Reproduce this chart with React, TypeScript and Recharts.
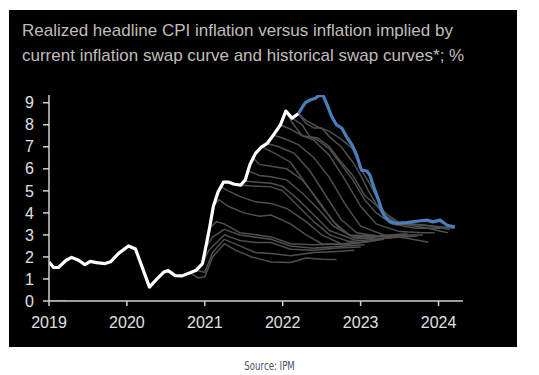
import React from 'react';
import { LineChart, Line, XAxis, YAxis } from 'recharts';

const yearTicks = [2019, 2020, 2021, 2022, 2023, 2024];
const valueTicks = [0, 1, 2, 3, 4, 5, 6, 7, 8, 9];

const realizedYears = [
  2019.0, 2019.06, 2019.12, 2019.22, 2019.29, 2019.38, 2019.46, 2019.53, 2019.61, 2019.72, 2019.79, 2019.89,
  2020.02, 2020.11, 2020.29, 2020.39, 2020.47, 2020.53, 2020.62, 2020.71, 2020.81, 2020.89, 2020.97,
  2021.01, 2021.06, 2021.11, 2021.17, 2021.24, 2021.3, 2021.38, 2021.46, 2021.52, 2021.58, 2021.65, 2021.73,
  2021.8, 2021.88, 2021.97, 2022.04, 2022.12, 2022.2,
];
const realizedValues = [
  1.77, 1.52, 1.52, 1.85, 1.98, 1.85, 1.65, 1.8, 1.74, 1.7, 1.78, 2.15,
  2.5, 2.36, 0.63, 1.02, 1.3, 1.38, 1.15, 1.14, 1.28, 1.4, 1.7,
  2.4, 3.3, 4.3, 4.95, 5.4, 5.4, 5.3, 5.26, 5.5, 6.2, 6.7, 7.0,
  7.15, 7.53, 7.99, 8.62, 8.3, 8.5,
];

const swapYears = [
  2022.2, 2022.29, 2022.35, 2022.42, 2022.46, 2022.52, 2022.57, 2022.63, 2022.69, 2022.76, 2022.82, 2022.89,
  2022.95, 2023.01, 2023.08, 2023.12, 2023.16, 2023.23, 2023.27, 2023.31, 2023.38, 2023.46, 2023.59, 2023.72,
  2023.85, 2023.93, 2024.02, 2024.11, 2024.21,
];
const swapValues = [
  8.5, 9.0, 9.12, 9.2, 9.32, 9.32, 8.9, 8.36, 8.0, 7.84, 7.45, 7.08,
  6.62, 5.94, 5.9, 5.71, 5.26, 4.58, 4.12, 3.82, 3.59, 3.52, 3.56, 3.62,
  3.67, 3.59, 3.67, 3.44, 3.36,
];

const baseSegment = [[2019.0, 0.02], [2019.22, 0.02]];

const curve01 = [[2020.81, 1.28], [2020.92, 1.05], [2021.0, 1.1], [2021.1, 2.0], [2021.25, 2.6], [2021.4, 2.3], [2021.6, 2.0], [2021.85, 1.77], [2022.1, 1.75], [2022.3, 1.95], [2022.5, 1.9], [2022.69, 1.88]];
const curve02 = [[2020.89, 1.4], [2021.0, 1.3], [2021.1, 2.2], [2021.25, 2.8], [2021.45, 2.5], [2021.65, 2.2], [2021.85, 2.16], [2022.1, 2.05], [2022.4, 2.2], [2022.7, 2.25], [2022.92, 2.3]];
const curve03 = [[2020.97, 1.7], [2021.05, 2.3], [2021.25, 3.0], [2021.45, 2.75], [2021.65, 2.65], [2021.85, 2.65], [2022.1, 2.35], [2022.4, 2.3], [2022.7, 2.4], [2023.0, 2.45]];
const curve04 = [[2021.01, 2.4], [2021.1, 2.9], [2021.25, 3.25], [2021.45, 3.0], [2021.85, 2.8], [2022.1, 2.5], [2022.4, 2.4], [2022.8, 2.5], [2023.05, 2.55]];
const curve05 = [[2021.06, 3.3], [2021.15, 3.6], [2021.25, 3.5], [2021.45, 3.1], [2021.85, 2.91], [2022.1, 2.6], [2022.4, 2.55], [2022.8, 2.6], [2023.1, 2.7]];
const curve06 = [[2021.11, 4.3], [2021.18, 4.6], [2021.3, 4.3], [2021.5, 4.0], [2021.7, 3.85], [2021.85, 3.9], [2022.1, 3.5], [2022.3, 3.0], [2022.5, 2.6], [2022.8, 2.55], [2023.2, 2.75]];
const curve07 = [[2021.2, 5.2], [2021.3, 5.0], [2021.45, 4.75], [2021.65, 4.5], [2021.85, 4.43], [2022.05, 4.2], [2022.3, 3.6], [2022.5, 3.0], [2022.75, 2.6], [2023.0, 2.65], [2023.3, 2.8]];
const curve08 = [[2021.45, 5.27], [2021.6, 5.22], [2021.85, 5.18], [2022.0, 5.0], [2022.2, 4.3], [2022.4, 3.6], [2022.6, 3.0], [2022.85, 2.7], [2023.2, 2.8], [2023.45, 2.9]];
const curve09 = [[2021.51, 5.45], [2021.65, 5.4], [2021.85, 5.34], [2022.0, 5.2], [2022.2, 4.6], [2022.4, 3.9], [2022.6, 3.2], [2022.9, 2.8], [2023.2, 2.9], [2023.5, 2.95]];
const curve10 = [[2021.56, 5.9], [2021.7, 5.7], [2021.85, 5.64], [2022.05, 5.5], [2022.25, 4.9], [2022.45, 4.2], [2022.65, 3.4], [2022.9, 2.9], [2023.2, 2.95], [2023.55, 3.0]];
const curve11 = [[2021.62, 6.5], [2021.7, 6.2], [2021.85, 6.12], [2022.05, 6.0], [2022.25, 5.5], [2022.45, 4.6], [2022.65, 3.6], [2022.85, 3.0], [2023.2, 2.95], [2023.6, 3.05]];
const curve12 = [[2021.73, 7.0], [2021.9, 6.7], [2022.1, 6.3], [2022.3, 5.3], [2022.5, 4.3], [2022.7, 3.4], [2022.9, 2.9], [2023.2, 2.8], [2023.5, 2.9], [2023.73, 2.95]];
const curve13 = [[2021.8, 7.15], [2021.95, 7.0], [2022.15, 6.7], [2022.35, 5.9], [2022.55, 4.8], [2022.75, 3.7], [2022.95, 3.1], [2023.3, 2.9], [2023.6, 3.0], [2023.8, 3.0]];
const curve14 = [[2021.88, 7.53], [2022.0, 7.4], [2022.2, 7.1], [2022.4, 6.5], [2022.6, 5.6], [2022.8, 4.4], [2023.0, 3.4], [2023.3, 3.0], [2023.6, 2.85], [2023.87, 2.67]];
const curve15 = [[2021.97, 7.99], [2022.1, 7.8], [2022.25, 7.5], [2022.4, 7.3], [2022.6, 6.6], [2022.8, 5.5], [2023.0, 4.3], [2023.2, 3.5], [2023.5, 3.15], [2023.8, 3.1], [2023.95, 3.1]];
const curve16 = [[2022.04, 8.62], [2022.12, 8.1], [2022.25, 7.5], [2022.35, 7.45], [2022.45, 7.3], [2022.6, 6.9], [2022.75, 6.2], [2022.9, 5.5], [2023.05, 4.6], [2023.2, 4.0], [2023.4, 3.5], [2023.7, 3.3], [2024.02, 3.3]];
const curve17 = [[2022.12, 8.3], [2022.25, 8.0], [2022.35, 7.45], [2022.45, 7.4], [2022.6, 7.0], [2022.75, 6.3], [2022.9, 5.7], [2023.05, 4.8], [2023.2, 4.35], [2023.3, 3.9], [2023.5, 3.5], [2023.8, 3.35], [2024.12, 3.1]];
const curve18 = [[2022.2, 8.5], [2022.3, 8.06], [2022.4, 7.85], [2022.5, 7.85], [2022.6, 7.45], [2022.75, 7.0], [2022.9, 6.3], [2023.0, 5.7], [2023.1, 5.0], [2023.2, 4.4], [2023.35, 3.9], [2023.5, 3.55], [2023.8, 3.45], [2024.15, 3.25]];
const curve19 = [[2022.2, 8.5], [2022.3, 8.2], [2022.45, 7.9], [2022.6, 7.7], [2022.75, 7.35], [2022.9, 6.9], [2023.0, 6.0], [2023.12, 5.3], [2023.25, 4.4], [2023.35, 3.7], [2023.5, 3.5], [2023.8, 3.45], [2024.2, 3.3]];

const historicalCurves = [
  baseSegment, curve01, curve02, curve03, curve04, curve05, curve06, curve07, curve08, curve09, curve10,
  curve11, curve12, curve13, curve14, curve15, curve16, curve17, curve18, curve19,
];

const toPoints = (xs: number[], ys: number[]) => xs.map((x, i) => ({ x, y: ys[i] }));
const pairPoints = (pairs: number[][]) => pairs.map(([x, y]) => ({ x, y }));

const realizedData = toPoints(realizedYears, realizedValues);
const swapData = toPoints(swapYears, swapValues);

const axisFont = "'Liberation Sans', Arial, sans-serif";

export default function App() {
  return (
    <div style={{ position: 'relative', width: 523, height: 362 }}>
      <div
        style={{
          position: 'absolute',
          left: 1,
          top: 2,
          width: 508,
          height: 337,
          background: '#000000',
        }}
      >
        <div
          style={{
            position: 'absolute',
            left: 13,
            top: 8,
            fontFamily: axisFont,
            fontSize: 17,
            lineHeight: '25px',
            color: '#c0bdb8',
            whiteSpace: 'nowrap',
          }}
        >
          <div>Realized headline CPI inflation versus inflation implied by</div>
          <div>current inflation swap curve and historical swap curves*; %</div>
        </div>
        <div style={{ position: 'absolute', left: 0, top: 0 }}>
          <LineChart width={508} height={337} margin={{ top: 85, right: 54, left: 0, bottom: 16 }}>
            <XAxis
              type="number"
              dataKey="x"
              domain={[2019, 2024.314]}
              ticks={yearTicks}
              interval={0}
              allowDataOverflow
              height={30}
              tickSize={5}
              tickMargin={11}
              axisLine={{ stroke: '#d0d0d0', strokeWidth: 1.5 }}
              tickLine={{ stroke: '#d0d0d0', strokeWidth: 1.5 }}
              tick={{ fill: '#e0e0e0', fontSize: 16, fontFamily: axisFont }}
            />
            <YAxis
              type="number"
              dataKey="y"
              domain={[0, 9.35]}
              ticks={valueTicks}
              interval={0}
              allowDataOverflow
              width={40}
              tickSize={6}
              tickMargin={9}
              axisLine={{ stroke: '#d0d0d0', strokeWidth: 1.5 }}
              tickLine={{ stroke: '#d0d0d0', strokeWidth: 1.5 }}
              tick={{ fill: '#e0e0e0', fontSize: 16, fontFamily: axisFont }}
            />
            {historicalCurves.map((c, i) => (
              <Line
                key={'h' + i}
                data={pairPoints(c)}
                dataKey="y"
                type="linear"
                stroke={i === 0 ? '#333333' : '#4f4f4f'}
                strokeWidth={1.5}
                dot={false}
                activeDot={false}
                isAnimationActive={false}
              />
            ))}
            <Line
              data={realizedData}
              dataKey="y"
              type="linear"
              stroke="#ffffff"
              strokeWidth={3.2}
              strokeLinejoin="round"
              dot={false}
              activeDot={false}
              isAnimationActive={false}
            />
            <Line
              data={swapData}
              dataKey="y"
              type="linear"
              stroke="#4a7ebb"
              strokeWidth={3.2}
              strokeLinejoin="round"
              dot={false}
              activeDot={false}
              isAnimationActive={false}
            />
          </LineChart>
        </div>
      </div>
      <div
        style={{
          position: 'absolute',
          left: 0,
          width: 523,
          top: 348,
          textAlign: 'center',
        }}
      >
        <span
          style={{
            display: 'inline-block',
            transform: 'scale(0.8, 1.05)',
            fontFamily: "'Liberation Sans Narrow', 'DejaVu Sans Condensed', sans-serif",
            fontSize: 12,
            color: '#44546a',
          }}
        >
          Source: JPM
        </span>
      </div>
    </div>
  );
}
